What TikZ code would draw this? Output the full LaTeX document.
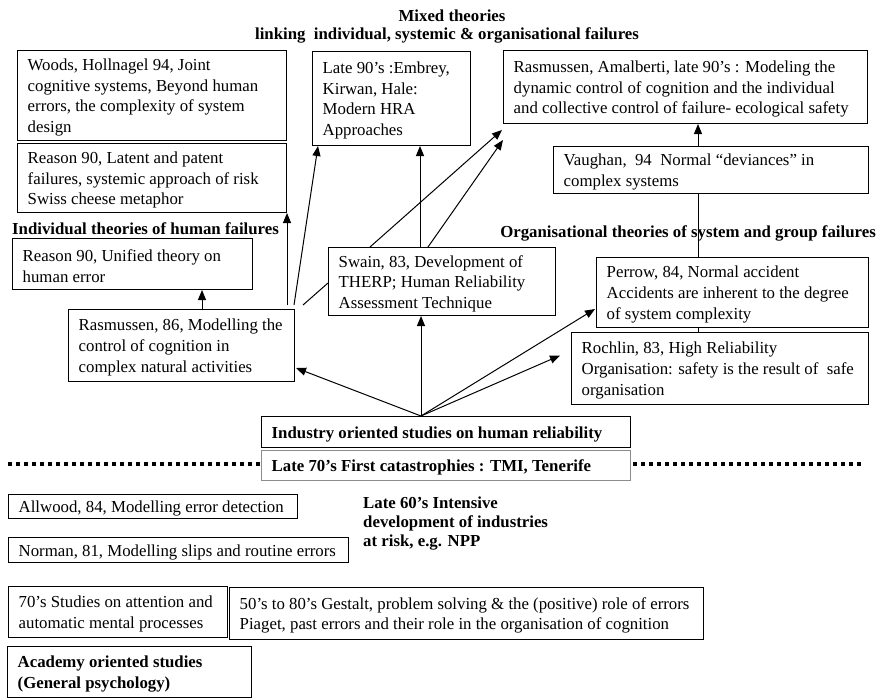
\documentclass[tikz,border=0pt]{standalone}
\usepackage{fontspec}
\setmainfont{Liberation Serif}
\usetikzlibrary{arrows.meta,backgrounds,calc}
\newcommand\diabox[7][box]{%
  \pgfmathsetmacro\dbw{#5-#3}\pgfmathsetmacro\dbh{#6-#4}%
  \node[#1,minimum width=\dbw pt,minimum height=\dbh pt,label={[#1txt]west:{#7}}] (#2) at (#3,#4) {};}
\begin{document}
\begin{tikzpicture}[x=1pt,y=-1pt,
  box/.style={draw,line width=1pt,fill=white,inner sep=0pt,anchor=north west},
  bbox/.style={box},
  gbox/.style={box,draw=black!45},
  boxtxt/.style={anchor=west,xshift=10.5pt,yshift=-2pt,align=left,inner sep=0pt,
    font=\fontsize{16.8}{20.6}\selectfont},
  bboxtxt/.style={boxtxt,font=\fontsize{16.8}{20.6}\selectfont\bfseries},
  gboxtxt/.style={bboxtxt},
  head/.style={font=\fontsize{16.8}{19}\selectfont\bfseries,inner sep=0pt},
  arr/.style={line width=1pt,-{Triangle[length=10pt,width=8pt]}},
  ln/.style={line width=1pt},
  dotline/.style={line width=3.5pt,dash pattern=on 4pt off 4pt}]
\useasboundingbox[fill=white] (0,0) rectangle (880,699);

% titles
\node[head] (mixed) at (452,16) {Mixed theories};
\node[head] (linking) at (447,35) {linking\ \ individual, systemic \& organisational failures};
\node[head,anchor=west] (indiv) at (12,229) {Individual theories of human failures};
\node[head,anchor=east] (orgth) at (876,233) {Organisational theories of system and group failures};
\node[head,anchor=north west,align=left] (late60) at (363,497) {Late 60’s Intensive\\development of industries\\at risk, e.g. NPP};

% boxes
\diabox{woods}{17}{50}{286}{140}{Woods, Hollnagel 94, Joint\\cognitive systems, Beyond human\\errors, the complexity of system\\design}
\diabox{reasonl}{17}{143}{286}{212}{Reason 90, Latent and patent\\failures, systemic approach of risk\\Swiss cheese metaphor}
\diabox{late90}{312}{51}{470}{145}{Late 90’s :Embrey,\\Kirwan, Hale:\\Modern HRA\\Approaches}
\diabox{rasam}{503}{50}{867}{123}{Rasmussen, Amalberti, late 90’s : Modeling the\\dynamic control of cognition and the individual\\and collective control of failure- ecological safety}
\diabox{vaughan}{553}{146}{868}{193}{Vaughan,\ \ 94\ \ Normal “deviances” in\\complex systems}
\diabox{reasonu}{12}{238}{252}{289}{Reason 90, Unified theory on\\human error}
\diabox{swain}{328}{247}{555}{315}{Swain, 83, Development of\\THERP; Human Reliability\\Assessment Technique}
\diabox{perrow}{596}{257}{868}{327}{Perrow, 84, Normal accident\\Accidents are inherent to the degree\\of system complexity}
\diabox{rochlin}{571}{332}{868}{404}{Rochlin, 83, High Reliability\\Organisation: safety is the result of\ \ safe\\organisation}
\diabox{ras86}{68}{309}{294}{381}{Rasmussen, 86, Modelling the\\control of cognition in\\complex natural activities}
\diabox[bbox]{industry}{261}{416}{630}{447}{Industry oriented studies on human reliability}
\diabox[gbox]{late70}{261}{450}{630}{480}{Late 70’s First catastrophies : TMI, Tenerife}
\diabox{allwood}{8}{494}{297}{518}{Allwood, 84, Modelling error detection}
\diabox{norman}{8}{537}{348}{562}{Norman, 81, Modelling slips and routine errors}
\diabox{s70}{8}{586}{227}{637}{70’s Studies on attention and\\automatic mental processes}
\diabox{s50}{229}{587}{703}{639}{50’s to 80’s Gestalt, problem solving \& the (positive) role of errors\\Piaget, past errors and their role in the organisation of cognition}
\diabox[bbox]{academy}{7}{646}{251}{697}{Academy oriented studies\\(General psychology)}

% dotted separation line
\draw[dotline] (8,464) -- (late70.west |- 0,464);
\draw[dotline] (late70.east |- 0,464) ++(2,0) -- (863,464);

% long left line behind the bottom boxes
\begin{scope}[on background layer]
  \coordinate (lx) at ($(academy.north west)+(27,0)$);
  \draw[arr] (lx) -- (lx |- reasonu.south);
\end{scope}

% individual theories
\coordinate (r1) at ($(ras86.north west)+(134,0)$);
\draw[arr] (r1) -- (r1 |- reasonu.south);
\draw[arr] ([yshift=4pt]ras86.north -| reasonl.south east) -- (reasonl.south east);
\draw[arr] ($(ras86.north east)+(-1,-4)$) -- ($(late90.south west)+(6,0)$);
\draw[ln] ($(ras86.north east)+(8,-4)$) -- ($(swain.north west)+(0,36)$);

% Swain
\draw[arr] ($(swain.north west)+(42,0)$) -- ($(rasam.south west)+(-1,6)$);
\coordinate (s2) at ($(swain.north west)+(92,0)$);
\draw[arr] (s2) -- (s2 |- late90.south);
\draw[arr] ($(swain.north west)+(100,0)$) -- ($(rasam.south west)+(0,16)$);

% organisational
\coordinate (vx) at ($(vaughan.north west)+(145,0)$);
\draw[arr] (vx) -- (vx |- rasam.south);
\draw[ln] (vx |- vaughan.south) -- (vx |- perrow.north);
\draw[ln] (vx |- perrow.south) -- (vx |- rochlin.north);

% industry
\coordinate (ix) at ($(industry.north west)+(160,0)$);
\draw[arr] (ix) -- ($(ras86.south east)+(1,-14)$);
\draw[arr] (ix) -- (ix |- swain.south);
\draw[arr] (ix) -- ($(perrow.south west)+(-1,-19)$);
\draw[arr] (ix) -- ($(rochlin.west)+(-11,-13)$);
\end{tikzpicture}
\end{document}
